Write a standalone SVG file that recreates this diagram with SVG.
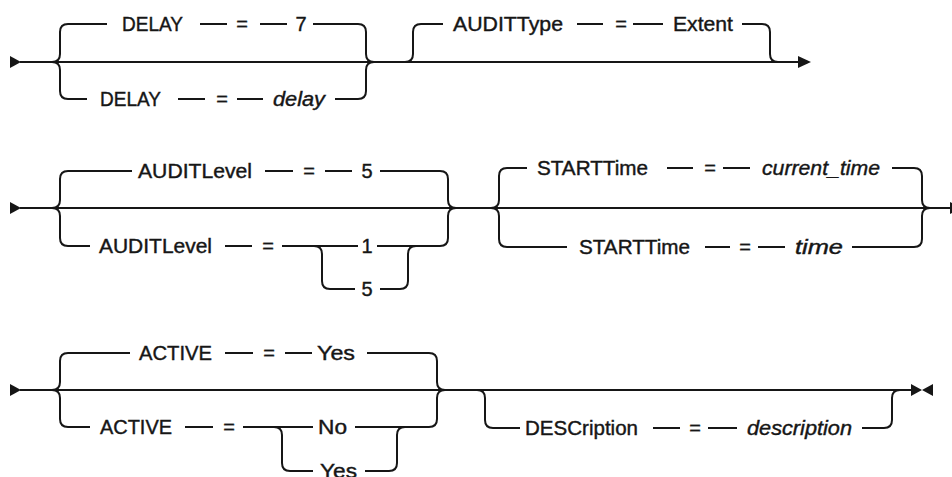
<svg xmlns="http://www.w3.org/2000/svg" width="952" height="477" viewBox="0 0 952 477">
<style>
.ln{fill:none;stroke:#161616;stroke-width:2}
.ar{fill:#161616;stroke:none}
text{font-family:"Liberation Sans",Arial,sans-serif;font-size:20px;fill:#161616;stroke:#161616;stroke-width:0.4}
.v{font-style:italic}
.c{text-anchor:middle}
</style>
<rect width="952" height="477" fill="#fff"/>
<g id="connectors">
<path class="ar" d="M10,56 L21,62 L10,68 Z"/>
<path class="ln" d="M20,62 H798"/>
<path class="ln" d="M52,62 Q60,62 60,54 V32 Q60,24 68,24 H107 M200,24 H227 M260,24 H287 M313,24 H358 Q366,24 366,32 V54 Q366,62 374,62"/>
<path class="ln" d="M52,62 Q60,62 60,70 V91 Q60,99 68,99 H87 M178,99 H205 M237,99 H263 M335,99 H358 Q366,99 366,91 V70 Q366,62 374,62"/>
<path class="ln" d="M405,62 Q413,62 413,54 V32 Q413,24 421,24 H443 M577,24 H603 M633,24 H663 M742,24 H762 Q770,24 770,32 V54 Q770,62 778,62"/>
<path class="ar" d="M798,56 L811,62 L798,68 Z"/>
<path class="ar" d="M10,202 L21,208 L10,214 Z"/>
<path class="ln" d="M20,208 H952"/>
<path class="ln" d="M52,208 Q60,208 60,200 V179 Q60,171 68,171 H132 M265,171 H293 M325,171 H352 M380,171 H440 Q448,171 448,179 V200 Q448,208 456,208"/>
<path class="ln" d="M52,208 Q60,208 60,216 V238 Q60,246 68,246 H90 M225,246 H252 M282,246 H358 M377,246 H440 Q448,246 448,238 V216 Q448,208 456,208"/>
<path class="ln" d="M314,246 Q322,246 322,254 V281 Q322,289 330,289 H355 M380,289 H400 Q408,289 408,281 V254 Q408,246 416,246"/>
<path class="ln" d="M491,208 Q499,208 499,200 V176 Q499,168 507,168 H527 M667,168 H693 M723,168 H750 M892,168 H914 Q922,168 922,176 V200 Q922,208 930,208"/>
<path class="ln" d="M491,208 Q499,208 499,216 V239 Q499,247 507,247 H567 M705,247 H730 M758,247 H785 M852,247 H914 Q922,247 922,239 V216 Q922,208 930,208"/>
<path class="ar" d="M950,202 L962,208 L950,214 Z"/>
<path class="ar" d="M10,384 L21,390 L10,396 Z"/>
<path class="ln" d="M20,390 H912"/>
<path class="ln" d="M52,390 Q60,390 60,382 V361 Q60,353 68,353 H130 M225,353 H253 M285,353 H312 M367,353 H429 Q437,353 437,361 V382 Q437,390 445,390"/>
<path class="ln" d="M52,390 Q60,390 60,398 V419 Q60,427 68,427 H90 M185,427 H213 M243,427 H313 M355,427 H429 Q437,427 437,419 V398 Q437,390 445,390"/>
<path class="ln" d="M274,427 Q282,427 282,435 V463 Q282,471 290,471 H313 M365,471 H389 Q397,471 397,463 V435 Q397,427 405,427"/>
<path class="ln" d="M477,390 Q485,390 485,398 V420 Q485,428 493,428 H520 M653,428 H680 M708,428 H737 M862,428 H884 Q892,428 892,420 V398 Q892,390 900,390"/>
<path class="ar" d="M911,384 L922,390 L911,396 Z M933,384 L922,390 L933,396 Z"/>
</g>
<g id="delay-default">
<text x="122" y="31" textLength="61" lengthAdjust="spacingAndGlyphs">DELAY</text>
<text class="c" x="242" y="31">=</text>
<text class="c" x="301" y="31">7</text>
</g>
<g id="delay-value">
<text x="100" y="106" textLength="61" lengthAdjust="spacingAndGlyphs">DELAY</text>
<text class="c" x="222" y="106">=</text>
<text class="v" x="273" y="106" textLength="52" lengthAdjust="spacingAndGlyphs">delay</text>
</g>
<g id="audittype">
<text x="453" y="31" textLength="110" lengthAdjust="spacingAndGlyphs">AUDITType</text>
<text class="c" x="621" y="31">=</text>
<text x="673" y="31" textLength="60" lengthAdjust="spacingAndGlyphs">Extent</text>
</g>
<g id="auditlevel-default">
<text x="138" y="178" textLength="114" lengthAdjust="spacingAndGlyphs">AUDITLevel</text>
<text class="c" x="309" y="178">=</text>
<text class="c" x="367" y="178">5</text>
</g>
<g id="auditlevel-value">
<text x="99" y="253" textLength="113" lengthAdjust="spacingAndGlyphs">AUDITLevel</text>
<text class="c" x="268" y="253">=</text>
<text class="c" x="367" y="253">1</text>
<text class="c" x="367" y="296">5</text>
</g>
<g id="starttime-default">
<text x="537" y="175" textLength="111" lengthAdjust="spacingAndGlyphs">STARTTime</text>
<text class="c" x="710" y="175">=</text>
<text class="v" x="762" y="175" textLength="118" lengthAdjust="spacingAndGlyphs">current_time</text>
</g>
<g id="starttime-value">
<text x="579" y="254" textLength="111" lengthAdjust="spacingAndGlyphs">STARTTime</text>
<text class="c" x="745" y="254">=</text>
<text class="v" x="795" y="254" textLength="48" lengthAdjust="spacingAndGlyphs">time</text>
</g>
<g id="active-default">
<text x="139" y="360" textLength="73" lengthAdjust="spacingAndGlyphs">ACTIVE</text>
<text class="c" x="269" y="360">=</text>
<text x="317" y="360" textLength="38" lengthAdjust="spacingAndGlyphs">Yes</text>
</g>
<g id="active-value">
<text x="100" y="434" textLength="72" lengthAdjust="spacingAndGlyphs">ACTIVE</text>
<text class="c" x="229" y="434">=</text>
<text x="318" y="434" textLength="29" lengthAdjust="spacingAndGlyphs">No</text>
<text x="320" y="478" textLength="37" lengthAdjust="spacingAndGlyphs">Yes</text>
</g>
<g id="description">
<text x="525" y="435" textLength="113" lengthAdjust="spacingAndGlyphs">DESCription</text>
<text class="c" x="695" y="435">=</text>
<text class="v" x="747" y="435" textLength="105" lengthAdjust="spacingAndGlyphs">description</text>
</g>
</svg>
